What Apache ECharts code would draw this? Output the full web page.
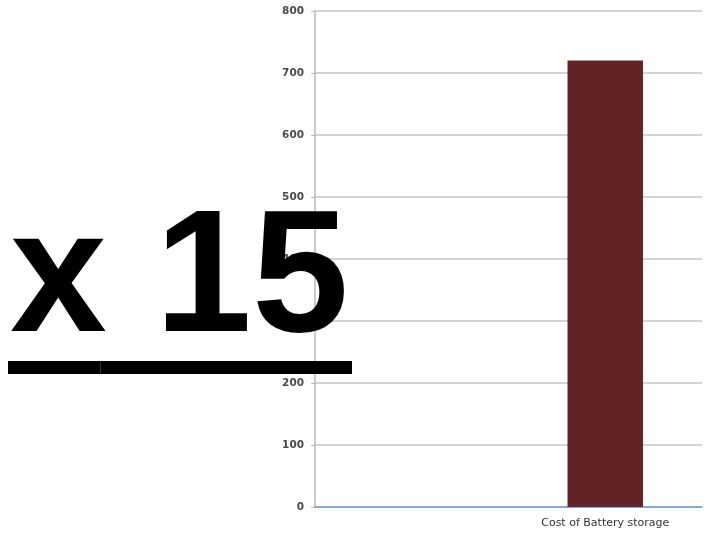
<!DOCTYPE html>
<html><head><meta charset="utf-8">
<script src="https://cdn.jsdelivr.net/npm/echarts@6/dist/echarts.min.js"></script>
<style>html,body{margin:0;padding:0;background:#fff}#c{width:708px;height:535px}</style>
</head><body><div id="c"></div>
<script>
const categories = ['', 'Cost of Battery storage'];
const costValues = [50, 720];
const yTicks = [0, 100, 200, 300, 400, 500, 600, 700, 800];
const overlayText = 'x 15';

const chart = echarts.init(document.getElementById('c'));
chart.setOption({
  backgroundColor: '#ffffff',
  animation: false,
  grid: { left: 315, right: 6, top: 11, bottom: 28 },
  xAxis: {
    type: 'category',
    data: categories,
    axisLine: { show: true, lineStyle: { color: '#6d9fd8', width: 1.5 } },
    axisTick: { show: false },
    axisLabel: { color: '#333', fontSize: 11, fontFamily: 'DejaVu Sans', margin: 11 }
  },
  yAxis: {
    type: 'value',
    min: yTicks[0],
    max: yTicks[yTicks.length - 1],
    interval: 100,
    axisLine: { show: true, lineStyle: { color: '#b8b8b8', width: 1.5 } },
    axisTick: { show: true, length: 4, lineStyle: { color: '#b8b8b8' } },
    axisLabel: { color: '#4a4a4a', fontSize: 10.5, fontFamily: 'DejaVu Sans', fontWeight: 'bold', margin: 11 },
    splitLine: { lineStyle: { color: '#c4c4c4', width: 1.5 } }
  },
  series: [{
    type: 'bar',
    data: costValues.map((v, i) => ({
      value: v,
      itemStyle: i === 0 ? { color: 'rgba(255,255,255,0)' } : { color: '#622424' }
    })),
    barWidth: '39%',
    z: 3
  }],
  graphic: [
    { type: 'text', left: 10, top: 196, z: 10,
      style: { text: overlayText, font: 'bold 174px "Liberation Sans"', fill: '#000' } },
    { type: 'rect', shape: { x: 8, y: 361, width: 344, height: 13 }, style: { fill: '#000' }, z: 10 },
    { type: 'rect', shape: { x: 100, y: 361, width: 1, height: 13 }, style: { fill: '#333' }, z: 11 }
  ]
});
</script></body></html>
